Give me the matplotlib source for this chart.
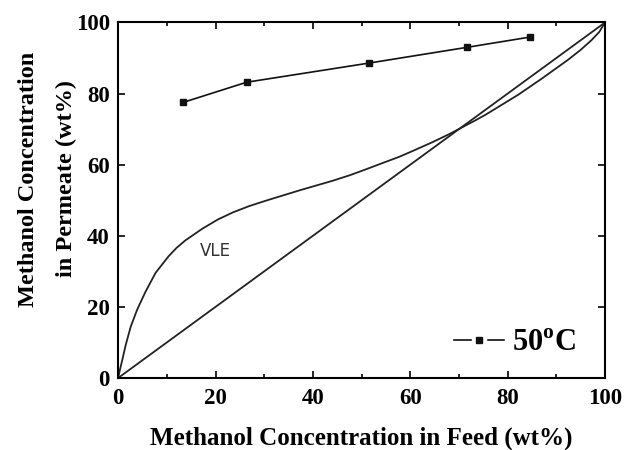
import matplotlib
matplotlib.use("Agg")
import matplotlib.pyplot as plt
from matplotlib.ticker import MultipleLocator
from matplotlib.lines import Line2D
from matplotlib.legend_handler import HandlerTuple

plt.rcParams['font.family'] = ['Liberation Serif', 'DejaVu Serif']
plt.rcParams['mathtext.fontset'] = 'custom'
plt.rcParams['mathtext.rm'] = 'Liberation Serif:bold'
plt.rcParams['mathtext.bf'] = 'Liberation Serif:bold'

# Data
feed_50C = [13.3, 26.4, 51.6, 71.6, 84.6]
perm_50C = [77.5, 83.2, 88.6, 93.0, 95.9]

vle_x = [0, 0.4, 0.86, 1.54, 2.6, 3.9, 5.6, 7.7, 10.4, 12.0, 13.8, 17.3, 20.5, 23.6,
         27.0, 30.4, 37.3, 44.1, 47.5, 50.9, 53.6, 57.7, 60.4, 64.5, 68.0, 70.5,
         73.0, 75.4, 78.5, 82.2, 87.0, 92.4, 95.0, 97.2, 98.8, 100]
vle_y = [0, 2.5, 5.1, 9.2, 14.5, 19.2, 24.2, 29.6, 34.3, 36.6, 38.7, 42.0, 44.6, 46.6,
         48.4, 49.9, 52.8, 55.5, 57.0, 58.7, 60.1, 62.2, 63.8, 66.3, 68.6, 70.4,
         72.2, 74.0, 76.6, 79.7, 84.2, 89.5, 92.3, 95.0, 97.3, 100]

diag = [0, 100]

fig = plt.figure(figsize=(6.25, 4.5), dpi=100)
ax = fig.add_axes([0.189, 0.16, 0.779, 0.79])

ax.plot(diag, diag, color='#222222', lw=1.3)
ax.plot(vle_x, vle_y, color='#222222', lw=1.3)
ax.plot(feed_50C, perm_50C, color='#111111', lw=1.2, marker='s', markersize=5)

ax.text(20, 35.8, 'VLE', family='DejaVu Sans', fontsize=12, color='#333333',
        ha='center', va='center')

ax.set_xlim(0, 100)
ax.set_ylim(0, 100)
ax.xaxis.set_major_locator(MultipleLocator(20))
ax.xaxis.set_minor_locator(MultipleLocator(10))
ax.yaxis.set_major_locator(MultipleLocator(20))
ax.yaxis.set_minor_locator(MultipleLocator(10))
ax.tick_params(which='both', direction='in', top=True, right=True, width=1.2)
ax.tick_params(which='major', length=5, labelsize=16.5)
ax.tick_params(axis='x', which='major', pad=7.5)
ax.tick_params(axis='y', which='major', pad=6)
ax.tick_params(which='minor', length=3)
ax.tick_params(axis='y', which='minor', left=False, right=False)
for lab in ax.get_xticklabels() + ax.get_yticklabels():
    lab.set_fontweight('bold')
for s in ax.spines.values():
    s.set_linewidth(1.5)

ax.set_xlabel('Methanol Concentration in Feed (wt%)', fontsize=18, fontweight='bold',
              labelpad=12)
ax.set_ylabel('Methanol Concentration\nin Permeate (wt%)', fontsize=17.5,
              fontweight='bold', linespacing=2.0)
ax.yaxis.set_label_coords(-0.085, 0.56)

h_line = Line2D([], [], color='#111111', lw=1.2, marker='s', markersize=10,
                markerfacecolor='white', markeredgecolor='white')
h_mark = Line2D([], [], ls='none', marker='s', markersize=5, color='#111111')
leg = ax.legend([(h_line, h_mark)], [r'50$^{\mathrm{o}}$C'],
                handler_map={tuple: HandlerTuple(ndivide=1, pad=0)},
                loc='lower right', bbox_to_anchor=(0.9815, 0.0),
                frameon=False, fontsize=22, handlelength=1.63,
                handletextpad=0.26, borderaxespad=0.27)
for t in leg.get_texts():
    t.set_fontweight('bold')

fig.savefig('out.png', dpi=100)
